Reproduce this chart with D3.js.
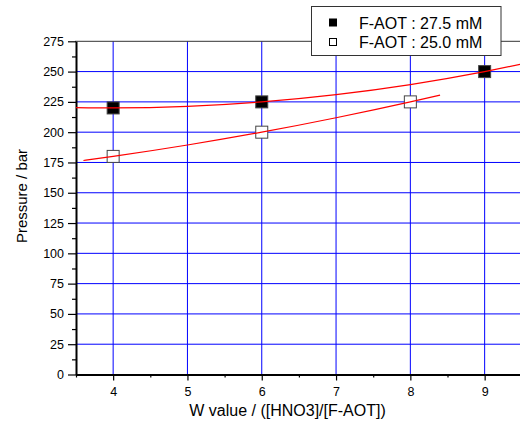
<!DOCTYPE html>
<meta charset="utf-8">
<html>
  <head>
    <!-- Load d3.js -->
    <script src="https://d3js.org/d3.v7.min.js"></script>
    <style>
      body { margin: 0; background: #fff; }
      text { font-family: "Liberation Sans", Arial, sans-serif; }
    </style>
  </head>
  <body>
    <svg id="viz" width=520 height=421></svg>
    <script>
    // measured points
    const wHigh = [4, 6, 9];
    const pHigh = [220, 225, 250];
    const wLow = [4, 6, 8];
    const pLow = [180, 200, 225];

    // fitted curves
    const fitHighW = [3.5, 4, 5, 6, 7, 8, 9, 9.5];
    const fitHighP = [220.2, 220, 221.3, 225, 231, 239.3, 250, 256.2];
    const fitLowW = [3.6, 4, 5, 6, 7, 8, 8.4];
    const fitLowP = [176.6, 180, 189.4, 200, 211.9, 225, 230.6];

    const legendLabels = ["F-AOT : 27.5 mM", "F-AOT : 25.0 mM"];
    const yTicks = [0, 25, 50, 75, 100, 125, 150, 175, 200, 225, 250, 275];
    const yMinor = [12.5, 37.5, 62.5, 87.5, 112.5, 137.5, 162.5, 187.5, 212.5, 237.5, 262.5];
    const xTicks = [4, 5, 6, 7, 8, 9];
    const xMinor = [3.5, 4.5, 5.5, 6.5, 7.5, 8.5, 9.5];

    var svg = d3.select("#viz");

    var x = d3.scaleLinear().domain([3.5, 9.5]).range([76, 521.8]);
    var y = d3.scaleLinear().domain([0, 275]).range([374.5, 41.3]);

    // grid
    svg.append("g").selectAll("line")
      .data(yTicks.filter(d => d > 0 && d < 275))
      .enter().append("line")
      .attr("x1", 76).attr("x2", 520)
      .attr("y1", d => y(d)).attr("y2", d => y(d))
      .attr("stroke", "#0000ff").attr("stroke-width", 1);

    svg.append("g").selectAll("line")
      .data(xTicks)
      .enter().append("line")
      .attr("x1", d => x(d)).attr("x2", d => x(d))
      .attr("y1", y(275)).attr("y2", y(0))
      .attr("stroke", "#0000ff").attr("stroke-width", 1);

    // top frame line
    svg.append("line")
      .attr("x1", 75).attr("x2", 520)
      .attr("y1", y(275)).attr("y2", y(275))
      .attr("stroke", "#333").attr("stroke-width", 1);

    // axes
    svg.append("g")
      .attr("transform", "translate(" + x(3.5) + ",0)")
      .call(d3.axisLeft(y).tickValues(yTicks).tickSize(8).tickSizeOuter(0).tickPadding(4).tickFormat(d3.format("d")));
    svg.append("g")
      .attr("transform", "translate(" + x(3.5) + ",0)")
      .call(d3.axisLeft(y).tickValues(yMinor).tickSize(4).tickSizeOuter(0).tickFormat(""))
      .select(".domain").remove();

    svg.append("g")
      .attr("transform", "translate(0," + y(0) + ")")
      .call(d3.axisBottom(x).tickValues(xTicks).tickSize(6).tickSizeOuter(0).tickPadding(7).tickFormat(d3.format("d")));
    svg.append("g")
      .attr("transform", "translate(0," + y(0) + ")")
      .call(d3.axisBottom(x).tickValues(xMinor).tickSize(3).tickSizeOuter(0).tickFormat(""))
      .select(".domain").remove();

    svg.selectAll(".domain").attr("stroke", "#000").attr("stroke-width", 2);
    svg.selectAll(".tick line").attr("stroke", "#000").attr("stroke-width", 1.2);
    svg.selectAll(".tick text")
      .style("font-family", "'Liberation Sans', Arial, sans-serif")
      .style("font-size", "12.5px")
      .attr("fill", "#000");

    // markers
    function drawMarkers(ws, ps, fill) {
      svg.append("g").selectAll("rect")
        .data(ws.map((w, i) => [w, ps[i]]))
        .enter().append("rect")
        .attr("x", d => x(d[0]) - 6)
        .attr("y", d => y(d[1]) - 6)
        .attr("width", 12).attr("height", 12)
        .attr("fill", fill)
        .attr("stroke", "#444").attr("stroke-width", 1);
    }
    drawMarkers(wHigh, pHigh, "#000");
    drawMarkers(wLow, pLow, "#fff");

    // fit curves
    var line = d3.line()
      .x(d => x(d[0])).y(d => y(d[1]))
      .curve(d3.curveMonotoneX);

    svg.append("path")
      .datum(fitHighW.map((w, i) => [w, fitHighP[i]]))
      .attr("d", line)
      .attr("fill", "none").attr("stroke", "#ff0000").attr("stroke-width", 1.2);
    svg.append("path")
      .datum(fitLowW.map((w, i) => [w, fitLowP[i]]))
      .attr("d", line)
      .attr("fill", "none").attr("stroke", "#ff0000").attr("stroke-width", 1.2);

    // axis titles
    svg.append("text")
      .attr("x", 287.5).attr("y", 416)
      .attr("text-anchor", "middle")
      .style("font-size", "16px")
      .text("W value / ([HNO3]/[F-AOT])");

    svg.append("text")
      .attr("transform", "translate(26.5,196)rotate(-90)")
      .attr("text-anchor", "middle")
      .style("font-size", "15px")
      .text("Pressure / bar");

    // legend
    var legend = svg.append("g");
    legend.append("rect")
      .attr("x", 311.5).attr("y", 6.5)
      .attr("width", 189.5).attr("height", 49)
      .attr("fill", "#fff").attr("stroke", "#333").attr("stroke-width", 1);

    var rows = legend.selectAll("g.row")
      .data(legendLabels)
      .enter().append("g")
      .attr("class", "row")
      .attr("transform", (d, i) => "translate(0," + (i * 19.5) + ")");

    rows.append("rect")
      .attr("x", 329.5).attr("y", 19)
      .attr("width", 7).attr("height", 7)
      .attr("fill", (d, i) => i == 0 ? "#000" : "#fff")
      .attr("stroke", "#000").attr("stroke-width", 1);

    rows.append("text")
      .attr("x", 359).attr("y", 28.5)
      .style("font-size", "16px")
      .text(d => d);
    </script>
  </body>
</html>
